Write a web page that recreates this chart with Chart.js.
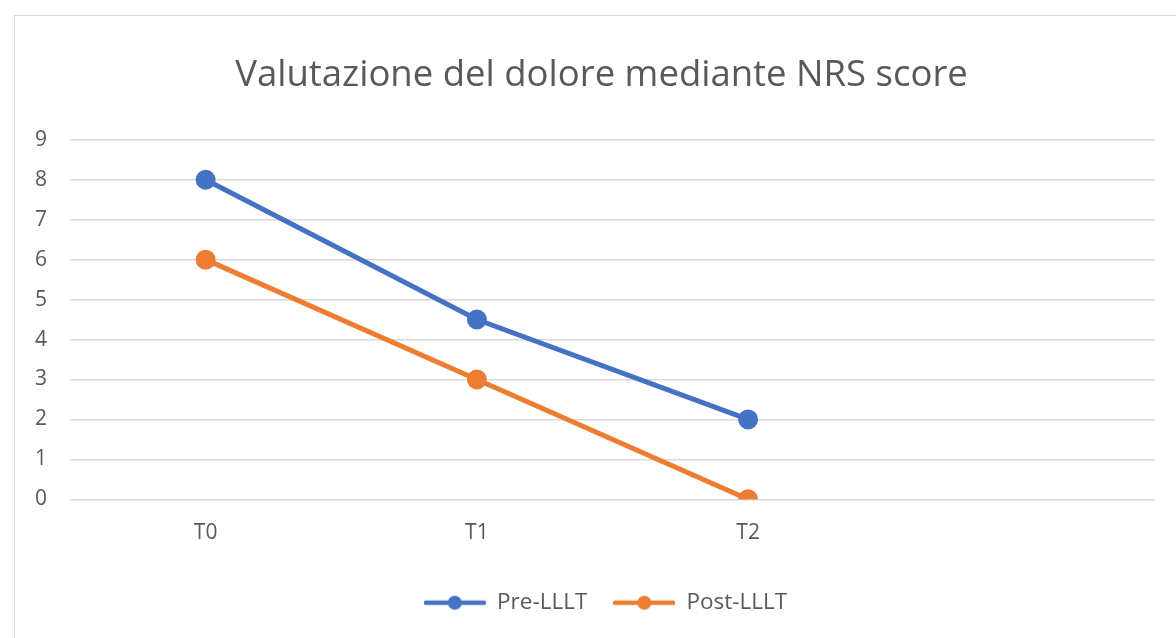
<!DOCTYPE html>
<html>
<head>
<meta charset="utf-8">
<script src="https://cdn.jsdelivr.net/npm/chart.js@4"></script>
<style>
  html, body { margin: 0; padding: 0; background: #fff; }
  .frame { position: absolute; left: 14px; top: 15px; width: 1170px; height: 640px; border: 1px solid #d9d9d9; box-sizing: border-box; }
  .wrap { position: absolute; left: 0; top: 0; width: 1176px; height: 638px; }
</style>
</head>
<body>
<div class="frame"></div>
<div class="wrap"><canvas id="chart"></canvas></div>
<script>
const categories = ["T0", "T1", "T2", ""];
const preLLLT = [8, 4.5, 2, null];
const postLLLT = [6, 3, 0, null];
const seriesNames = ["Pre-LLLT", "Post-LLLT"];
const seriesColors = ["#4472C4", "#ED7D31"];
const textColor = "#595959";

// legend marker: short line with a dot in the middle
function legendMarker(color) {
  const c = document.createElement("canvas");
  c.width = 62; c.height = 16;
  const g = c.getContext("2d");
  g.strokeStyle = color; g.lineWidth = 4.5; g.lineCap = "round";
  g.beginPath(); g.moveTo(2, 8); g.lineTo(60, 8); g.stroke();
  g.fillStyle = color;
  g.beginPath(); g.arc(31, 8, 7, 0, Math.PI * 2); g.fill();
  return c;
}

// the original frame is wider than the crop, so title/legend sit a bit right of the canvas centre
const nudge = {
  id: "nudge",
  afterLayout(chart) {
    const t = chart.titleBlock, l = chart.legend;
    if (t) { t.left += 18; t.right += 18; }
    if (l) { l.left += 22; l.right += 22; l.top += 7; l.bottom += 7; }
  },
};

const ds = (label, data, color) => ({
  label, data,
  borderColor: color, backgroundColor: color,
  borderWidth: 5, pointRadius: 7.5, pointHoverRadius: 7.5,
  pointStyle: "circle", tension: 0,
});

new Chart(document.getElementById("chart"), {
  type: "line",
  data: {
    labels: categories,
    datasets: [ds(seriesNames[0], preLLLT, seriesColors[0]), ds(seriesNames[1], postLLLT, seriesColors[1])],
  },
  plugins: [nudge],
  options: {
    responsive: true,
    maintainAspectRatio: false,
    animation: false,
    layout: { padding: { left: 12, right: 21, top: 54, bottom: 21 } },
    plugins: {
      title: {
        display: true, text: "Valutazione del dolore mediante NRS score",
        color: textColor, font: { family: "Open Sans", size: 36.5, weight: "normal" },
        padding: { top: 0, bottom: 42 },
      },
      legend: {
        position: "bottom",
        labels: {
          color: textColor, font: { family: "Open Sans", size: 22.5 },
          usePointStyle: true, pointStyleWidth: 62, boxHeight: 16, padding: 26,
          generateLabels: (chart) => chart.data.datasets.map((d, i) => ({
            text: d.label, fontColor: textColor, datasetIndex: i,
            pointStyle: legendMarker(d.borderColor), lineWidth: 0, strokeStyle: "transparent",
          })),
        },
      },
      tooltip: { enabled: false },
    },
    scales: {
      x: {
        offset: true,
        grid: { display: false }, border: { display: false },
        ticks: { color: textColor, font: { family: "Open Sans", size: 21 }, padding: 13 },
      },
      y: {
        min: 0, max: 9,
        grid: { color: "#d9d9d9", lineWidth: 1.5, drawTicks: false }, border: { display: false },
        ticks: { stepSize: 1, color: textColor, font: { family: "Open Sans", size: 21 }, padding: 23 },
      },
    },
  },
});
</script>
</body>
</html>
